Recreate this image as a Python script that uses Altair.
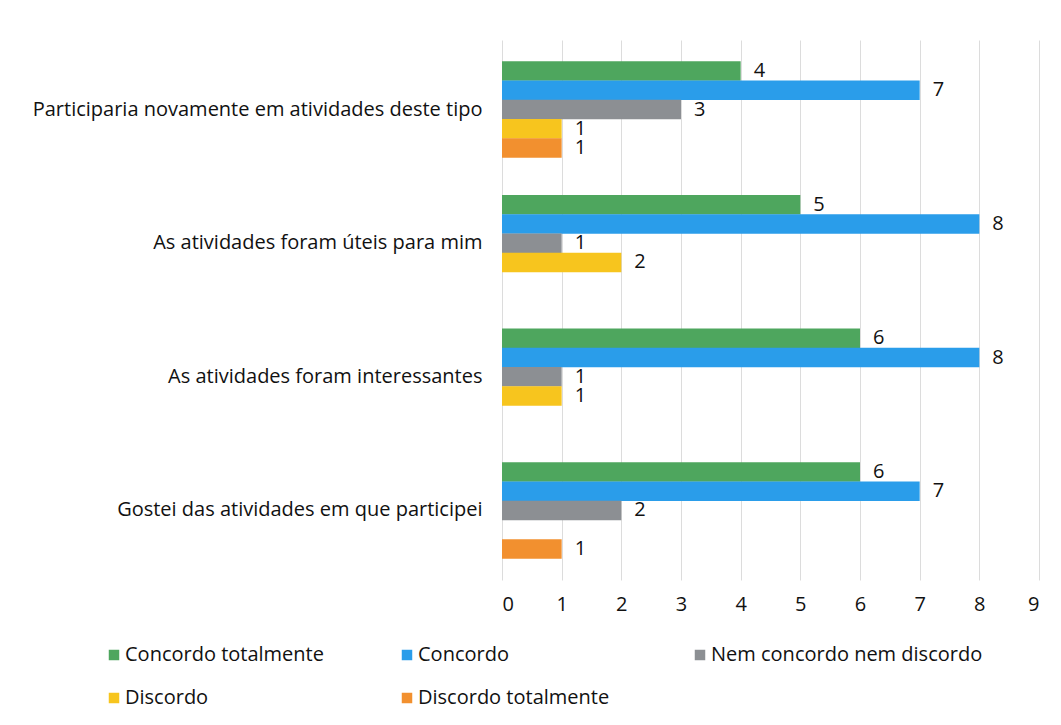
import altair as alt
import pandas as pd

categories = [
    "Participaria novamente em atividades deste tipo",
    "As atividades foram úteis para mim",
    "As atividades foram interessantes",
    "Gostei das atividades em que participei",
]
series = ["Concordo totalmente", "Concordo", "Nem concordo nem discordo",
          "Discordo", "Discordo totalmente"]
colors = ["#4EA65E", "#2A9DEA", "#8C8F93", "#F7C51E", "#F2902F"]

concordo_totalmente = [4, 5, 6, 6]
concordo = [7, 8, 8, 7]
nem = [3, 1, 1, 2]
discordo = [1, 2, 1, 0]
discordo_totalmente = [1, 0, 0, 1]

values = [concordo_totalmente, concordo, nem, discordo, discordo_totalmente]
rows = []
for s, vals in zip(series, values):
    for c, v in zip(categories, vals):
        rows.append({"cat": c, "serie": s, "v": v})
df = pd.DataFrame(rows)
df = df[df["v"] > 0]

FONT = "Open Sans"
FS = 20

y = alt.Y("cat:N", sort=categories,
          scale=alt.Scale(paddingInner=0.28, paddingOuter=0.16),
          axis=alt.Axis(title=None, labelFontSize=FS, labelColor="#111",
                        labelPadding=20, ticks=False, domain=False,
                        labelLimit=600, labelFont=FONT, grid=False))
yoff = alt.YOffset("serie:N", sort=series, scale=alt.Scale(domain=series, paddingInner=0, paddingOuter=0))
x = alt.X("v:Q", scale=alt.Scale(domain=[0, 9], nice=False),
          axis=alt.Axis(title=None, values=list(range(10)), format="d",
                        labelFontSize=FS,
                        labelColor="#111", labelFont=FONT, domain=False,
                        ticks=False, labelPadding=14, gridColor="#dcdcdc",
                        gridWidth=1))
color = alt.Color("serie:N", sort=series,
                  scale=alt.Scale(domain=series, range=colors),
                  legend=alt.Legend(title=None, orient="none", legendX=-398,
                                    legendY=605, columns=3, direction="horizontal",
                                    gridAlign="all", columnPadding=0,
                                    rowPadding=23, symbolType="square",
                                    symbolSize=110, symbolOffset=0,
                                    labelFontSize=FS, labelFont=FONT,
                                    labelColor="#111", labelOffset=1,
                                    labelLimit=400, symbolStrokeWidth=0))

base = alt.Chart(df).encode(y=y, yOffset=yoff)
bars = base.mark_bar(size=19.5).encode(x=x, color=color)
labels = base.mark_text(align="left", dx=13, fontSize=FS, font=FONT,
                        color="#111").encode(x="v:Q", text="v:Q")

chart = (bars + labels).properties(
    width=537, height=540,
    background="white",
    padding={"left": 494, "top": 32, "right": 14, "bottom": 137},
    autosize=alt.AutoSizeParams(type="none"),
).configure_view(strokeWidth=0)

chart.save("out.html", embed_options={"renderer": "svg", "actions": False})
